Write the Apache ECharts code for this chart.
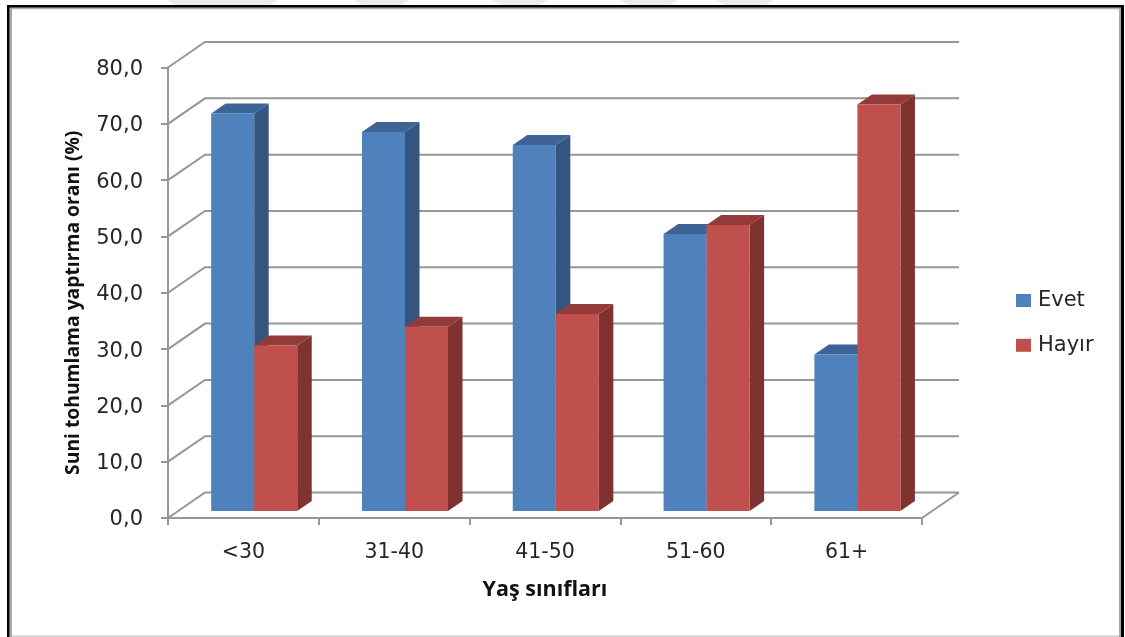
<!DOCTYPE html>
<html><head><meta charset="utf-8">
<style>html,body{margin:0;padding:0;background:#fff}#c{width:1125px;height:637px}</style>
<script src="https://cdn.jsdelivr.net/npm/echarts@6/dist/echarts.min.js"></script>
</head><body><div id="c"></div>
<script>
var categories = ['<30', '31-40', '41-50', '51-60', '61+'];
var evet = [70.6, 67.3, 65.0, 49.2, 27.8];
var hayir = [29.4, 32.7, 35.0, 50.8, 72.2];
var yTicks = [0, 10, 20, 30, 40, 50, 60, 70, 80];

var WALL_DX = 37, WALL_DY = -25.5;
var BAR_DX = 10.8, BAR_DY = -7;
var DEPTH_DX = 14.5, DEPTH_DY = -10;
var BAR_FRAC = 0.2853;
var GRID_COLOR = '#979797';
var FONT = '"DejaVu Sans", sans-serif';
var TITLE_FONT = '"Open Sans", sans-serif';

function renderWall(params, api) {
  var v = api.value(0);
  var band = api.size([1, 0])[0];
  var p0 = api.coord([0, v]);
  var pN = api.coord([categories.length - 1, v]);
  var xl = p0[0] - band / 2, xr = pN[0] + band / 2, y = p0[1];
  var children = [{
    type: 'polyline',
    shape: { points: [[xl, y], [xl + WALL_DX, y + WALL_DY], [xr + WALL_DX, y + WALL_DY]] },
    style: { stroke: GRID_COLOR, lineWidth: 2, fill: null }
  }];
  if (v === 0) {
    children.push({
      type: 'line',
      shape: { x1: xr, y1: y, x2: xr + WALL_DX, y2: y + WALL_DY },
      style: { stroke: GRID_COLOR, lineWidth: 2 }
    });
  }
  return { type: 'group', children: children };
}

function barRenderer(side, face, sideCol, topCol) {
  return function (params, api) {
    var c = api.value(0), v = api.value(1);
    var band = api.size([1, 0])[0];
    var w = band * BAR_FRAC;
    var top = api.coord([c, v]), base = api.coord([c, 0]);
    var x0 = top[0] + BAR_DX + (side < 0 ? -w : 0), x1 = x0 + w;
    var yt = top[1] + BAR_DY, yb = base[1] + BAR_DY;
    return {
      type: 'group',
      children: [
        { type: 'polygon', shape: { points: [[x1, yt], [x1 + DEPTH_DX, yt + DEPTH_DY], [x1 + DEPTH_DX, yb + DEPTH_DY], [x1, yb]] }, style: { fill: sideCol } },
        { type: 'polygon', shape: { points: [[x0, yt], [x0 + DEPTH_DX, yt + DEPTH_DY], [x1 + DEPTH_DX, yt + DEPTH_DY], [x1, yt]] }, style: { fill: topCol } },
        { type: 'rect', shape: { x: x0, y: yt, width: w, height: yb - yt }, style: { fill: face } }
      ]
    };
  };
}

function pairs(values) { return values.map(function (v, i) { return [i, v]; }); }

function frameRect(x, y, w, h, fill) {
  return { type: 'rect', silent: true, z: 100, shape: { x: x, y: y, width: w, height: h }, style: { fill: fill } };
}
function blob(x1, x2) {
  return { type: 'polygon', silent: true, z: 99, shape: { points: [[x1, 0], [x2, 0], [x2 - 8, 5], [x1 + 8, 5]] }, style: { fill: '#ececec' } };
}

var option = {
  animation: false,
  backgroundColor: '#fff',
  grid: { left: 168, right: 203, top: 67.5, bottom: 119 },
  legend: {
    left: 1016, top: 290, padding: 0, orient: 'vertical', itemWidth: 15, itemHeight: 13, itemGap: 23.8,
    icon: 'rect', data: ['Evet', 'Hayır'],
    textStyle: { fontFamily: FONT, fontSize: 21, lineHeight: 13, color: '#262626', padding: [0, 0, 0, 2] }
  },
  xAxis: {
    type: 'category', data: categories,
    axisLine: { lineStyle: { color: GRID_COLOR, width: 2 } },
    axisTick: { show: true, length: 7, lineStyle: { color: GRID_COLOR, width: 2 } },
    axisLabel: { margin: 24, fontFamily: FONT, fontSize: 20.5, color: '#262626' },
    name: 'Yaş sınıfları', nameLocation: 'middle', nameGap: 61,
    nameTextStyle: { fontFamily: TITLE_FONT, fontSize: 21.5, fontWeight: 'bold', color: '#111' }
  },
  yAxis: {
    type: 'value', min: 0, max: 80, interval: 10,
    axisLine: { show: true, lineStyle: { color: GRID_COLOR, width: 2 } },
    axisTick: { show: true, length: 7, lineStyle: { color: GRID_COLOR, width: 2 } },
    splitLine: { show: false },
    axisLabel: {
      margin: 25,
      formatter: function (v) { return '{a|' + v.toFixed(1).replace('.', ',') + '}'; },
      rich: { a: { fontFamily: FONT, fontSize: 21, color: '#262626', padding: [4, 0, 0, 0] } }
    },
    name: 'Suni tohumlama yaptırma oranı (%)', nameLocation: 'middle', nameGap: 85, nameRotate: 90,
    nameTextStyle: { fontFamily: TITLE_FONT, fontSize: 19.3, fontWeight: 'bold', color: '#111', padding: [0, 20, 0, 0] }
  },
  graphic: [
    blob(167, 278), blob(354, 410), blob(493, 548), blob(620, 678), blob(716, 774),
    frameRect(9.5, 7.3, 1110, 2, '#b0b0b0'),
    frameRect(9.5, 7.3, 2.5, 630, '#a8a8a8'),
    frameRect(1119, 7.3, 2, 630, '#a8a8a8'),
    frameRect(7, 5, 2.5, 632, '#000'),
    frameRect(7, 5, 1117, 2.4, '#000'),
    frameRect(1121, 5, 3, 632, '#000'),
    frameRect(12, 635.5, 1107, 1.5, '#cfcfcf')
  ],
  series: [
    { type: 'custom', name: 'walls', coordinateSystem: 'cartesian2d', silent: true, renderItem: renderWall,
      data: yTicks.map(function (v) { return [v]; }), encode: { y: 0 }, z: 1 },
    { type: 'custom', name: 'Evet', coordinateSystem: 'cartesian2d', itemStyle: { color: '#4F81BD' },
      renderItem: barRenderer(-1, '#4F81BD', '#34557F', '#3D6494'), data: pairs(evet), encode: { x: 0, y: 1 }, z: 2 },
    { type: 'custom', name: 'Hayır', coordinateSystem: 'cartesian2d', itemStyle: { color: '#C0504D' },
      renderItem: barRenderer(1, '#C0504D', '#7F3230', '#943B39'), data: pairs(hayir), encode: { x: 0, y: 1 }, z: 3 }
  ]
};
echarts.init(document.getElementById('c')).setOption(option);
</script></body></html>
